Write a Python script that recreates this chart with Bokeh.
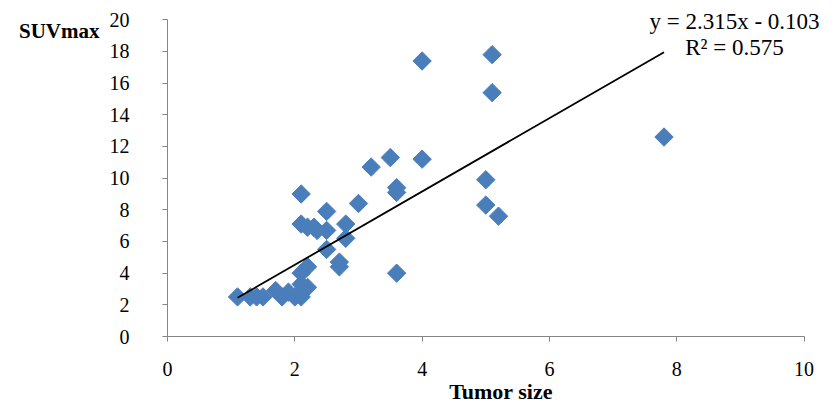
import numpy as np
from bokeh.plotting import figure
from bokeh.models import FixedTicker, Range1d, Label, ColumnDataSource, LinearAxis
from bokeh.embed import file_html
from bokeh.resources import INLINE

tumor_size = [1.1, 1.3, 1.4, 1.5, 1.7, 1.8, 1.9, 2.0, 2.1, 2.1, 2.1, 2.2, 2.1, 2.2,
              2.1, 2.1, 2.2, 2.3, 2.35, 2.5, 2.5, 2.5, 2.7, 2.7, 2.8, 2.8, 3.0, 3.2,
              3.5, 3.6, 3.6, 3.6, 4.0, 4.0, 5.0, 5.0, 5.1, 5.1, 5.2, 7.8]
suv_max = [2.5, 2.5, 2.5, 2.5, 2.9, 2.5, 2.8, 2.5, 2.8, 2.5, 3.3, 3.1, 4.0, 4.4,
           9.0, 7.1, 6.9, 6.9, 6.7, 6.7, 7.9, 5.5, 4.7, 4.4, 7.1, 6.2, 8.4, 10.7,
           11.3, 9.4, 9.1, 4.0, 17.4, 11.2, 9.9, 8.3, 15.4, 17.8, 7.6, 12.6]
slope = 2.315
intercept = -0.103
r_squared = 0.575
x_ticks = [0, 2, 4, 6, 8, 10]
y_ticks = [0, 2, 4, 6, 8, 10, 12, 14, 16, 18, 20]
x_title = "Tumor size"
y_title = "SUVmax"

FONT = "Liberation Serif"
AXIS_GRAY = "#868686"

p = figure(width=834, height=406, output_backend="svg", toolbar_location=None,
           x_range=Range1d(0, 10.478), y_range=Range1d(0, 21.22),
           min_border_left=167, min_border_right=0, min_border_top=0,
           min_border_bottom=70)
p.outline_line_color = None
p.xgrid.grid_line_color = None
p.ygrid.grid_line_color = None
p.background_fill_color = "white"

xax = p.xaxis[0]
yax = p.yaxis[0]
for ax in (xax, yax):
    ax.axis_line_color = AXIS_GRAY
    ax.major_tick_line_color = AXIS_GRAY
    ax.minor_tick_line_color = None
    ax.major_tick_in = 0
    ax.major_tick_out = 5
    ax.major_label_text_font = FONT
    ax.major_label_text_font_size = "20px"
    ax.major_label_text_color = "black"

xax.ticker = FixedTicker(ticks=x_ticks)
yax.ticker = FixedTicker(ticks=y_ticks)
xax.bounds = (0, 10)
yax.bounds = (0, 20)
xax.major_label_standoff = 20
yax.major_label_standoff = 33
xax.axis_label = x_title
xax.axis_label_text_font = FONT
xax.axis_label_text_font_style = "bold"
xax.axis_label_text_font_size = "22px"
xax.axis_label_text_color = "black"
xax.axis_label_standoff = 0

# y title drawn horizontally at the top-left, as a single labelled tick
title_axis = LinearAxis(ticker=FixedTicker(ticks=[19.3]),
                        major_label_overrides={19.3: "\u00a0\u00a0\u00a0" + y_title})
title_axis.axis_line_color = None
title_axis.major_tick_line_color = None
title_axis.minor_tick_line_color = None
title_axis.major_tick_in = 0
title_axis.major_tick_out = 0
title_axis.major_label_standoff = 7
title_axis.major_label_text_font = FONT
title_axis.major_label_text_font_style = "bold"
title_axis.major_label_text_font_size = "21px"
title_axis.major_label_text_color = "black"
p.add_layout(title_axis, "left")

src = ColumnDataSource(dict(x=tumor_size, y=suv_max))
p.scatter("x", "y", source=src, marker="square", size=13, angle=np.pi / 4,
          fill_color="#4A7EBB", line_color="#4A7EBB", line_width=1)

xmin, xmax = min(tumor_size), max(tumor_size)
p.line([xmin, xmax], [slope * xmin + intercept, slope * xmax + intercept],
       line_color="black", line_width=1.8)

eq1 = f"y = {slope}x - {abs(intercept)}"
eq2 = f"R² = {r_squared}"
p.add_layout(Label(x=8.907, y=19.92, text=eq1, text_font=FONT, text_font_size="23px",
                   text_align="center", text_baseline="middle", text_color="black"))
p.add_layout(Label(x=8.907, y=18.25, text=eq2, text_font=FONT, text_font_size="23px",
                   text_align="center", text_baseline="middle", text_color="black"))

open("out.html", "w").write(file_html(p, INLINE))
